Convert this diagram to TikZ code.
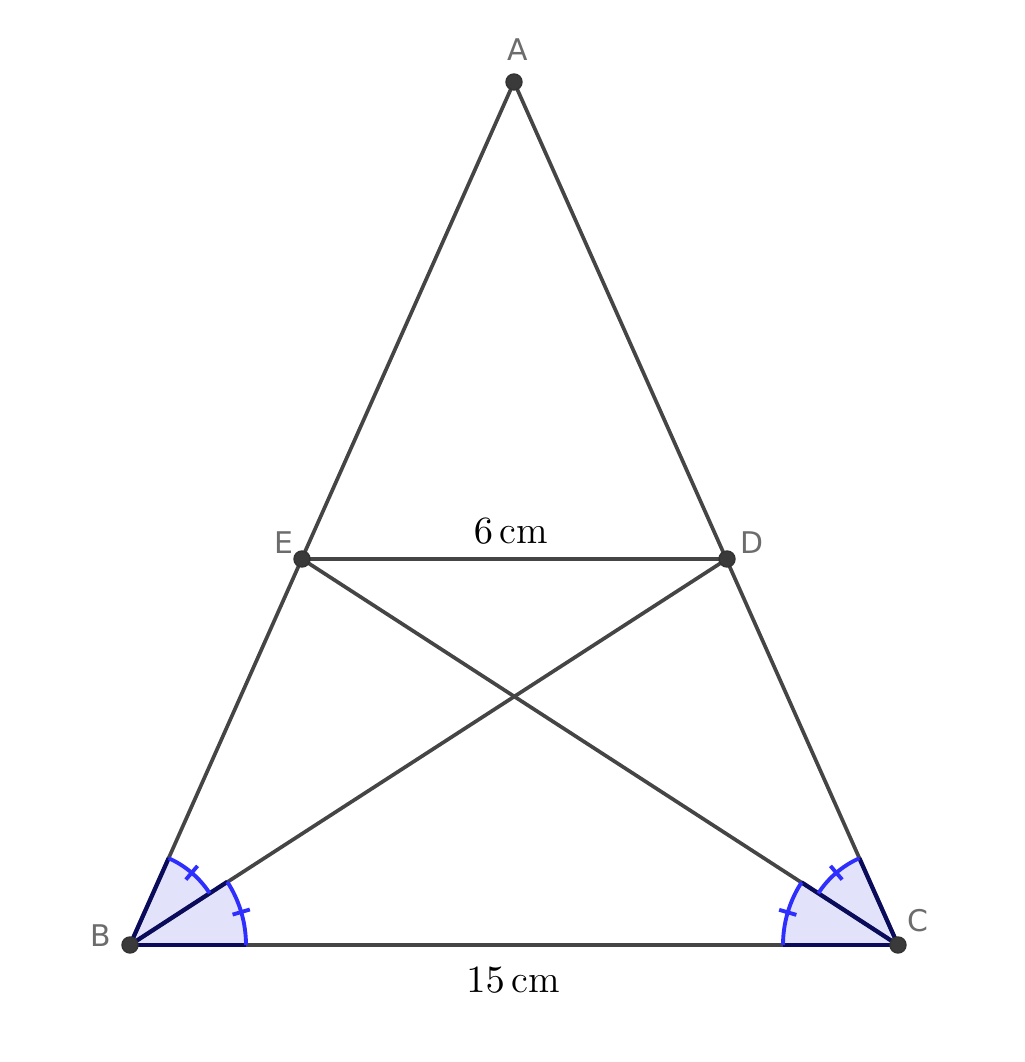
\documentclass[tikz,border=0pt]{standalone}
\usepackage{fontspec}
\newfontfamily\labelfont{DejaVu Sans}
\usetikzlibrary{calc}

\definecolor{segcol}{HTML}{454545}
\definecolor{ptcol}{HTML}{3A3A3A}
\definecolor{anglefill}{HTML}{E2E2FA}
\definecolor{anglearc}{HTML}{2E2EFF}
\definecolor{angleedge}{HTML}{0B0B5C}

\tikzset{
  seg/.style={segcol, line width=1.05pt},
  wedge/.style={fill=anglefill},
  arcline/.style={anglearc, line width=1.1pt},
  edgeline/.style={angleedge, line width=1.2pt},
  ptlabel/.style={text=gray!85!black, inner sep=0pt, font=\labelfont\fontsize{8.5}{10}\selectfont},
  lenlabel/.style={inner sep=0pt, font=\fontsize{11}{13}\selectfont},
}

\begin{document}
\begin{tikzpicture}

    \useasboundingbox (0,0) rectangle (10.24,10.62);

    %% Triangle with parallel segment

    % Points
    \coordinate (A) at (5.14,9.80);
    \coordinate (B) at (1.30,1.17);
    \coordinate (C) at (8.98,1.17);
    \coordinate (E) at (3.02,5.03);
    \coordinate (D) at (7.27,5.03);

    % Angle wedges (outer and inner halves)
    \fill[wedge] (B) -- ++(0:1.16) arc[start angle=0, end angle=33, radius=1.16] -- cycle;
    \fill[wedge] (B) -- ++(33:0.95) arc[start angle=33, end angle=66, radius=0.95] -- cycle;
    \fill[wedge] (C) -- ++(147:1.15) arc[start angle=147, end angle=180, radius=1.15] -- cycle;
    \fill[wedge] (C) -- ++(114:0.95) arc[start angle=114, end angle=147, radius=0.95] -- cycle;

    % Sides
    \draw[seg] (A) -- (B) -- (C) -- cycle;
    \draw[seg] (E) -- (D);
    \draw[seg] (B) -- (D);
    \draw[seg] (C) -- (E);

    % Wedge edges
    \draw[edgeline] (B) -- ++(0:1.16);
    \draw[edgeline] (B) -- ++(33:1.16);
    \draw[edgeline] (B) -- ++(66:0.95);
    \draw[edgeline] (C) -- ++(180:1.15);
    \draw[edgeline] (C) -- ++(147:1.15);
    \draw[edgeline] (C) -- ++(114:0.95);

    % Arcs and ticks
    \draw[arcline] (B) ++(0:1.16) arc[start angle=0, end angle=33, radius=1.16];
    \draw[arcline] (B) ++(33:0.95) arc[start angle=33, end angle=66, radius=0.95];
    \draw[arcline] (C) ++(147:1.15) arc[start angle=147, end angle=180, radius=1.15];
    \draw[arcline] (C) ++(114:0.95) arc[start angle=114, end angle=147, radius=0.95];
    \draw[arcline] ($(B)+(16.5:1.07)$) -- ($(B)+(16.5:1.25)$);
    \draw[arcline] ($(B)+(49.5:0.86)$) -- ($(B)+(49.5:1.04)$);
    \draw[arcline] ($(C)+(163.5:1.06)$) -- ($(C)+(163.5:1.24)$);
    \draw[arcline] ($(C)+(130.5:0.86)$) -- ($(C)+(130.5:1.04)$);

    % Dots
    \foreach \p in {A,B,C,D,E} {
      \draw[fill=ptcol, draw=black!80, line width=0.4pt] (\p) circle (0.08);
    }

    % Point labels
    \node[ptlabel] (lA) at ($(A)+(0.04,0.32)$) {A};
    \node[ptlabel] (lB) at ($(B)+(-0.29,0.09)$) {B};
    \node[ptlabel] (lC) at ($(C)+(0.20,0.24)$) {C};
    \node[ptlabel] (lD) at ($(D)+(0.25,0.16)$) {D};
    \node[ptlabel] (lE) at ($(E)+(-0.18,0.16)$) {E};

    % Lengths
    \node[lenlabel] (lED) at (5.11,5.31) {\(6\,\mathrm{cm}\)};
    \node[lenlabel] (lBC) at (5.13,0.82) {\(15\,\mathrm{cm}\)};

\end{tikzpicture}
\end{document}
